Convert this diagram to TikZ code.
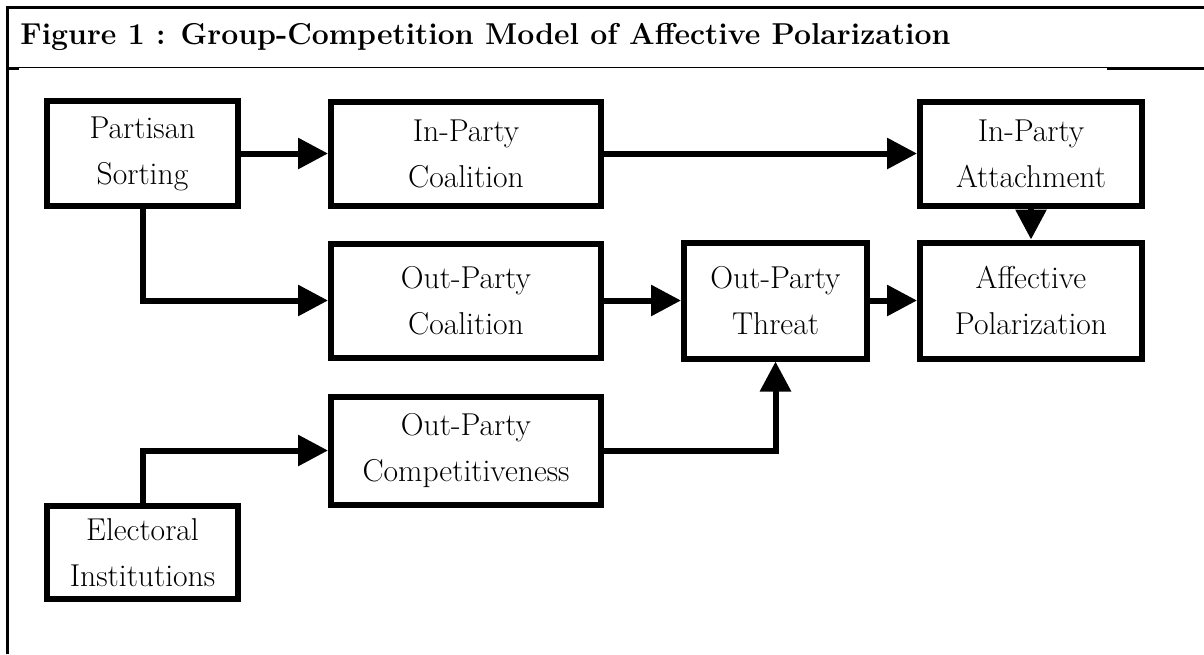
\documentclass[tikz,border=0pt]{standalone}
\usepackage{tikz}
\usetikzlibrary{arrows.meta,positioning}

\begin{document}
\begin{tikzpicture}[
  x=1pt, y=1pt,
  node distance=16pt and 40pt,
  box/.style={draw, line width=3pt, align=center,
    font=\fontsize{15.8}{23}\selectfont},
  arr/.style={-{Triangle[length=15pt,width=15pt]}, line width=3pt}
]
\useasboundingbox (0,0) rectangle (602,-327);
% frame of the figure
\draw[line width=1.5pt] (3.5,-327) -- (3.5,-3.5) -- (602,-3.5);
\draw[line width=0.5pt] (3.5,-33.5) -- (602,-33.5);
\draw[line width=1.5pt] (3.5,-34) -- (9.5,-34) (553.5,-34) -- (602,-34);
\node[anchor=base west, inner sep=0, font=\fontsize{15.1}{18}\selectfont\bfseries]
  (title) at (10,-22) {Figure 1 : Group-Competition Model of Affective Polarization};

\node[box, minimum width=95.5pt, minimum height=52.5pt] (sorting) at (71.25,-76.75) {Partisan\\Sorting};
\node[box, minimum width=135pt, minimum height=52pt, right=43.5pt of sorting] (inpc) {In-Party\\Coalition};
\node[box, minimum width=111pt, minimum height=52pt, right=156.5pt of inpc] (attach) {In-Party\\Attachment};
\node[box, minimum width=135pt, minimum height=57pt, below=16pt of inpc] (outpc) {Out-Party\\Coalition};
\node[box, minimum width=91.5pt, minimum height=58pt, right=38.5pt of outpc] (threat) {Out-Party\\Threat};
\node[box, minimum width=111pt, minimum height=58pt, right=23.5pt of threat] (affpol) {Affective\\Polarization};
\node[box, minimum width=135pt, minimum height=54pt, below=16.5pt of outpc] (compet) {Out-Party\\Competitiveness};
\node[box, minimum width=95.5pt, minimum height=46.5pt, below=147pt of sorting] (elect) {Electoral\\Institutions};

\draw[arr] (sorting) -- (inpc);
\draw[arr] (inpc) -- (attach);
\draw[arr] (attach) -- (affpol);
\draw[arr] (sorting) |- (outpc);
\draw[arr] (outpc) -- (threat);
\draw[arr] (threat) -- (affpol);
\draw[arr] (compet) -| (threat);
\draw[arr] (elect) |- (compet);
\end{tikzpicture}
\end{document}
